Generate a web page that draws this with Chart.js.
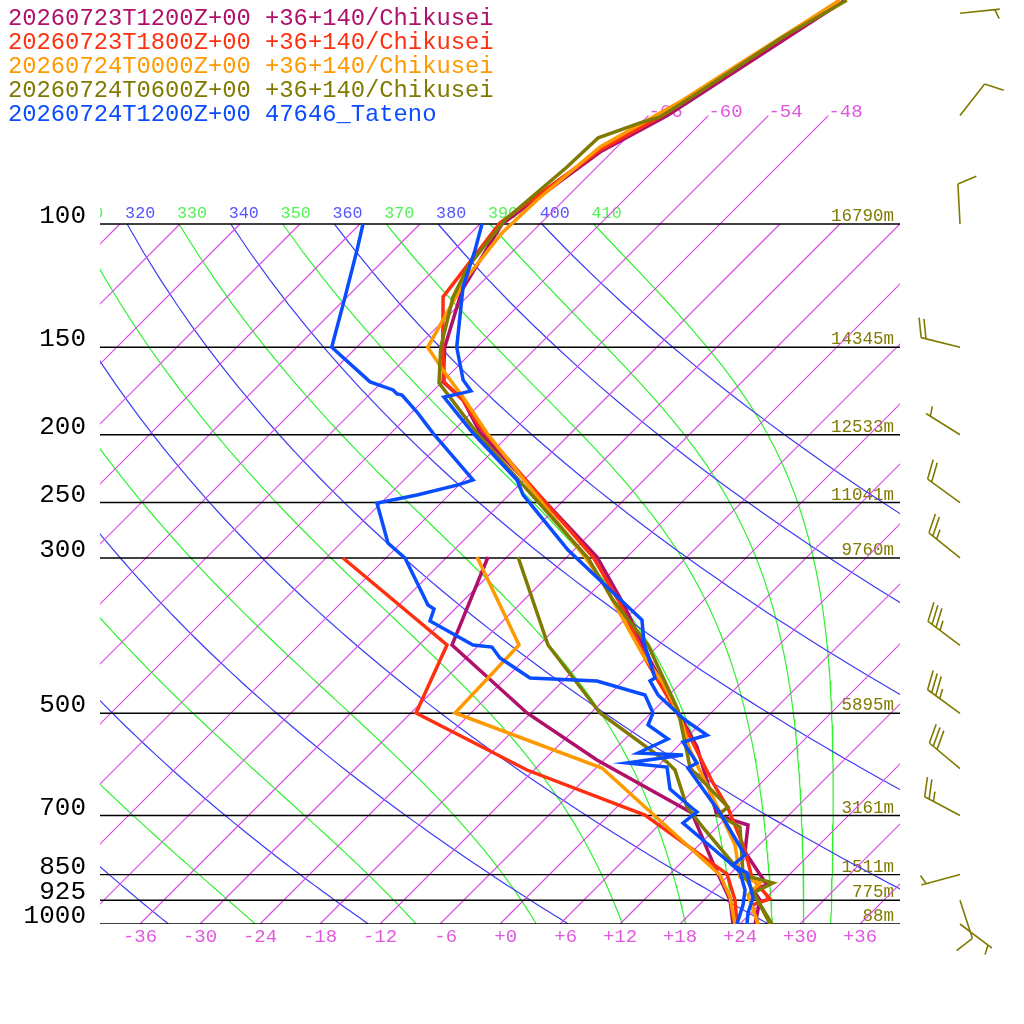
<!DOCTYPE html>
<html>
<head>
<meta charset="utf-8">
<title>Skew-T Chikusei / Tateno</title>
<script src="https://cdn.jsdelivr.net/npm/chart.js@4.4.1/dist/chart.umd.min.js"></script>
<style>
  html, body { margin: 0; padding: 0; background: #fff; }
  canvas { display: block; }
</style>
</head>
<body>
<canvas id="skewt" width="1024" height="1024"></canvas>
<script>
// run names and colours (legend order)
const runLabels = [
  '20260723T1200Z+00 +36+140/Chikusei',
  '20260723T1800Z+00 +36+140/Chikusei',
  '20260724T0000Z+00 +36+140/Chikusei',
  '20260724T0600Z+00 +36+140/Chikusei',
  '20260724T1200Z+00 47646_Tateno'
];
const runColors = ['#b0106a', '#ff3010', '#ff9900', '#807a00', '#0a4cff'];

// temperature profiles: pressure (hPa) / temperature (degC)
const m1P = [47.9, 69.9, 78.9, 100, 124.2, 150, 168.1, 178.4, 198.3, 299, 347.9, 419.6, 494.6, 558.6, 698.8, 722, 789.1, 879.6, 894, 924.1, 1000];
const m1T = [-57.9, -64.1, -67.2, -69.8, -67.2, -63.2, -59.9, -56.1, -51.2, -27.0, -19.8, -11.4, -3.7, 2.0, 10.8, 14.9, 17.3, 22.8, 21.9, 23.6, 25.5];
const m2P = [47.9, 69.7, 78.4, 99.7, 127.1, 150, 168.1, 178.4, 195.0, 299, 347.9, 422.4, 499.5, 540.6, 628.9, 682.8, 783.9, 859.6, 921.1, 939.4, 1000];
const m2T = [-58.4, -64.5, -67.4, -70.1, -68.4, -63.4, -59.8, -56.1, -51.7, -27.4, -20.1, -11.5, -3.4, 0.3, 7.2, 11.2, 17.1, 20.6, 24.5, 23.3, 25.8];
const m3P = [47.9, 59.8, 66.5, 77.6, 92.4, 103.0, 119.0, 150, 161.7, 176.7, 198.9, 299, 325.7, 412.8, 452.6, 506.1, 564.2, 682.8, 771.1, 856.8, 873.8, 909.0, 1000];
const m3T = [-58.4, -62.3, -64.1, -67.7, -68.7, -68.9, -68.0, -64.9, -61.1, -56.4, -50.4, -28.2, -23.8, -12.6, -7.8, -2.7, 1.6, 10.2, 15.6, 19.3, 21.9, 21.9, 25.8];
const m4P = [47.9, 54.0, 60.2, 66.5, 70.3, 71.7, 75.3, 82.9, 98.7, 115.2, 127.1, 150, 168.7, 176.7, 198.9, 300, 344.5, 399.4, 494.6, 577.4, 598.6, 680.6, 698.8, 726.8, 851.1, 873.8, 903.0, 1000];
const m4T = [-57.7, -60.4, -62.1, -63.7, -64.7, -66.1, -68.8, -69.0, -69.9, -68.9, -67.4, -63.6, -60.2, -57.7, -51.4, -27.8, -21.1, -13.1, -3.6, 2.1, 3.4, 11.1, 10.9, 14.3, 19.4, 23.2, 22.2, 27.2];
const obsP = [100, 108.9, 123.0, 150, 167.0, 173.2, 174.3, 176.7, 198.9, 232.1, 243.8, 282.8, 292.2, 310.0, 367.9, 396.8, 445.2, 449.6, 470.8, 511.2, 537.0, 549.5, 588.8, 598.6, 694.1, 796.9, 823.6, 845.5, 918.0, 964.4, 1000];
const obsT = [-71.8, -69.9, -67.4, -62.0, -58.1, -56.2, -56.8, -58.3, -51.8, -42.7, -40.6, -32.4, -30.6, -26.9, -16.2, -13.7, -9.1, -9.3, -7.1, -1.9, 1.8, 0.1, 3.6, 3.2, 10.9, 17.6, 17.4, 19.6, 22.7, 23.7, 24.7];

// dewpoint profiles
const m1DP = [299, 399.4, 499.5, 583.1, 694.1, 818.2, 924.1, 1000];
const m1Td = [-37.9, -32.7, -18.4, -6.7, 8.1, 15.2, 20.6, 23.3];
const m2DP = [300, 399.4, 499.5, 602.6, 698.8, 848.3, 924.1, 1000];
const m2Td = [-52.3, -33.2, -29.5, -12.7, 3.6, 17.7, 21.1, 23.7];
const m3DP = [299, 399.4, 499.5, 598.6, 851.1, 915.0, 1000];
const m3Td = [-39.0, -26.0, -25.6, -5.4, 17.1, 20.3, 23.5];
const m4DP = [299, 399.4, 499.5, 586.9, 602.6, 680.6, 734.0, 865.3, 1000];
const m4Td = [-34.9, -23.1, -11.1, 0.5, 2.1, 7.0, 11.1, 20.3, 27.0];
const obsDP = [100, 108.9, 127.1, 150, 168.1, 172.6, 174.9, 175.5, 185.6, 198.9, 232.1, 235.9, 243.8, 250.4, 285.6, 300, 350.2, 354.8, 369.1, 399.4, 402.1, 416.9, 445.2, 449.6, 470.8, 499.5, 519.6, 544.2, 569.8, 573.5, 588.8, 596.7, 641.4, 682.8, 691.8, 717.3, 818.2, 842.8, 894.0, 939.4, 1000];
const obsTd = [-83.7, -81.7, -78.2, -74.5, -67.2, -64.1, -63.3, -62.7, -59.5, -55.8, -47.1, -48.1, -51.2, -54.4, -49.3, -46.1, -39.1, -38.1, -37.3, -30.6, -28.5, -26.6, -21.6, -14.6, -8.4, -5.8, -5.1, -1.7, -3.3, 1.4, -3.4, 1.0, 3.5, 7.6, 8.5, 8.2, 16.9, 18.8, 21.1, 22.4, 23.7];

// winds (Tateno column on the right)
const windP = [50, 70, 100, 150, 200, 250, 300, 400, 500, 600, 700, 850, 925, 1000];
const windDir = [84, 38, 357, 284, 302, 306, 309, 307, 306, 310, 298, 255, 162, 127];
const windKt = [5, 10, 10, 20, 5, 20, 25, 35, 35, 30, 25, 5, 10, 5];

// axis stuff
const isobars = [100, 150, 200, 250, 300, 500, 700, 850, 925, 1000];
const isobarHeights = [16790, 14345, 12533, 11041, 9760, 5895, 3161, 1511, 775, 88];
const tempTicks = [-36, -30, -24, -18, -12, -6, 0, 6, 12, 18, 24, 30, 36];
const isothermTopLabels = [-66, -60, -54, -48];
const dryThetas = [240, 260, 280, 300, 320, 340, 360, 380, 400];
const moistThetas = [230, 250, 270, 290, 310, 330, 350, 370, 390, 410];

const SKEW = 30.4;      // degC per ln(p) unit
const P_TOP = 47.86;
const KAPPA = 0.2854;

const sx = (t, p) => t + SKEW * Math.log(1000 / p);
const profile = (ps, ts) => ps.map((p, i) => ({ x: sx(ts[i], p), y: p }));

function moistLine(theta) {
  const Rd = 287.04, cp = 1005.7, Lv = 2.501e6, eps = 0.622;
  const rate = (p, T) => {
    const es = 6.112 * Math.exp(17.67 * (T - 273.15) / (T - 29.65));
    const rs = eps * es / (p - es);
    return (Rd * T + Lv * rs) / (p * (cp + Lv * Lv * rs * eps / (Rd * T * T)));
  };
  let T = theta * Math.pow(0.1, KAPPA);
  const pts = [];
  for (let p = 100; p <= 1000; p += 2) {
    if ((p - 100) % 10 === 0) pts.push({ x: sx(T - 273.15, p), y: p });
    const k1 = rate(p, T);
    const k2 = rate(p + 1, T + k1);
    T += 2 * k2;
  }
  return pts;
}

function dryLine(theta) {
  const pts = [];
  for (let p = 100; p <= 1000; p += 10) {
    pts.push({ x: sx(theta * Math.pow(p / 1000, KAPPA) - 273.15, p), y: p });
  }
  return pts;
}

const datasets = [];
const line = (data, color, width, order) => ({
  data, borderColor: color, borderWidth: width, showLine: true,
  pointRadius: 0, fill: false, order
});

// profiles, blue drawn on top
const tLines = [[m1P, m1T], [m2P, m2T], [m3P, m3T], [m4P, m4T], [obsP, obsT]];
const dLines = [[m1DP, m1Td], [m2DP, m2Td], [m3DP, m3Td], [m4DP, m4Td], [obsDP, obsTd]];
for (let i = 0; i < 5; i++) {
  datasets.push(line(profile(tLines[i][0], tLines[i][1]), runColors[i], 3.5, 4 - i));
  datasets.push(line(profile(dLines[i][0], dLines[i][1]), runColors[i], 3.5, 4 - i));
}

isobars.forEach(p => {
  datasets.push(line([{ x: -40, y: p }, { x: 40, y: p }], '#000', 1.4, 50));
});

// isotherms as plain two-point lines
for (let t = -120; t <= 36; t += 6) {
  const top = isothermTopLabels.includes(t) ? 70 : 100;
  datasets.push(line([{ x: sx(t, 1000), y: 1000 }, { x: sx(t, top), y: top }], 'rgb(222,70,232)', 1.15, 100));
}
dryThetas.forEach(th => datasets.push(line(dryLine(th), 'rgb(60,60,245)', 1.2, 100)));
moistThetas.forEach(th => datasets.push(line(moistLine(th), 'rgb(50,240,50)', 1.2, 100)));

const MONO = '"Liberation Mono", monospace';

const skewtDecor = {
  id: 'skewtDecor',
  beforeDatasetsDraw(chart) {
    const { ctx, chartArea: a, scales: { x, y } } = chart;
    ctx.save();
    ctx.textBaseline = 'alphabetic';
    ctx.font = '26px ' + MONO;
    ctx.fillStyle = '#000';
    ctx.textAlign = 'right';
    isobars.forEach(p => ctx.fillText(String(p), 86, y.getPixelForValue(p) - 1));

    ctx.font = '17.5px ' + MONO;
    ctx.fillStyle = '#807a00';
    isobars.forEach((p, i) => ctx.fillText(isobarHeights[i] + 'm', a.right - 6, y.getPixelForValue(p) - 3));

    ctx.font = '19px ' + MONO;
    ctx.fillStyle = '#e058e0';
    ctx.textAlign = 'center';
    tempTicks.forEach(t => {
      const s = ((t >= 0 ? '+' : '') + t).padStart(3, ' ');
      ctx.fillText(s, x.getPixelForValue(sx(t, 1000)), a.bottom + 18);
    });
    ctx.textAlign = 'left';
    isothermTopLabels.forEach(t => {
      ctx.fillText(String(t), x.getPixelForValue(sx(t, 70)), y.getPixelForValue(70) + 1);
    });

    ctx.beginPath();
    ctx.rect(a.left, 0, a.right - a.left, a.bottom);
    ctx.clip();
    ctx.font = '16.7px ' + MONO;
    const yTop = y.getPixelForValue(100) - 6;
    dryThetas.forEach(th => {
      ctx.fillStyle = '#5555ff';
      ctx.fillText(String(th), x.getPixelForValue(sx(th * Math.pow(0.1, KAPPA) - 273.15, 100)) - 2, yTop);
    });
    moistThetas.forEach(th => {
      ctx.fillStyle = '#55f055';
      ctx.fillText(String(th), x.getPixelForValue(sx(th * Math.pow(0.1, KAPPA) - 273.15, 100)) - 2, yTop);
    });
    ctx.restore();
  },
  afterDraw(chart) {
    const { ctx, scales: { y } } = chart;
    ctx.save();

    // legend
    ctx.font = '23.8px ' + MONO;
    ctx.textAlign = 'left';
    ctx.textBaseline = 'alphabetic';
    runLabels.forEach((s, i) => {
      ctx.fillStyle = runColors[i];
      ctx.fillText(s, 8, 25 + 24 * i);
    });

    // wind barbs
    ctx.strokeStyle = '#807a00';
    ctx.lineWidth = 1.6;
    const c = Math.cos(70 * Math.PI / 180), s = Math.sin(70 * Math.PI / 180);
    windP.forEach((p, i) => {
      const bx = 960, by = y.getPixelForValue(p);
      const th = windDir[i] * Math.PI / 180;
      const dx = Math.sin(th), dy = -Math.cos(th);
      const tx = bx + 40 * dx, ty = by + 40 * dy;
      const ux = dx * c - dy * s, uy = dx * s + dy * c;
      ctx.beginPath();
      ctx.moveTo(bx, by);
      ctx.lineTo(tx, ty);
      const full = Math.floor(windKt[i] / 10);
      const half = windKt[i] % 10 >= 5;
      let pos = 0;
      for (let k = 0; k < full; k++) {
        const px = tx - pos * dx, py = ty - pos * dy;
        ctx.moveTo(px, py);
        ctx.lineTo(px + 20 * ux, py + 20 * uy);
        pos += 5;
      }
      if (half) {
        if (full === 0) pos = 5;
        const px = tx - pos * dx, py = ty - pos * dy;
        ctx.moveTo(px, py);
        ctx.lineTo(px + 10 * ux, py + 10 * uy);
      }
      ctx.stroke();
    });
    ctx.restore();
  }
};

new Chart(document.getElementById('skewt'), {
  type: 'scatter',
  data: { datasets },
  options: {
    responsive: false,
    animation: false,
    devicePixelRatio: 1,
    events: [],
    layout: { padding: { left: 100, right: 124, top: 0, bottom: 100 } },
    elements: { line: { tension: 0 } },
    scales: {
      x: { type: 'linear', min: -40, max: 40, display: false },
      y: { type: 'logarithmic', min: P_TOP, max: 1000, reverse: true, display: false }
    },
    plugins: { legend: { display: false }, tooltip: { enabled: false } }
  },
  plugins: [skewtDecor]
});
</script>
</body>
</html>
